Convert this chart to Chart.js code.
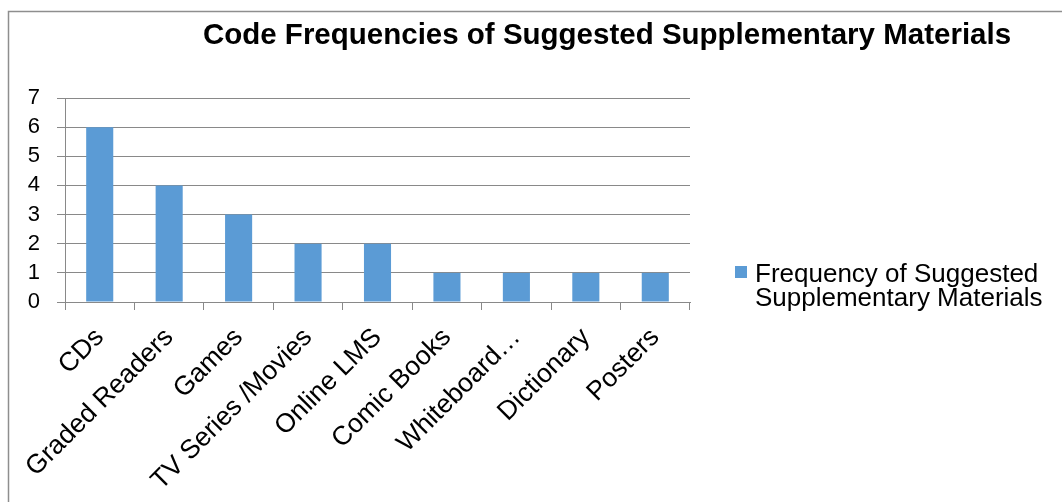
<!DOCTYPE html>
<html>
<head>
<meta charset="utf-8">
<title>Code Frequencies of Suggested Supplementary Materials</title>
<script src="https://cdn.jsdelivr.net/npm/chart.js@4/dist/chart.umd.min.js"></script>
<style>
  html, body { margin: 0; padding: 0; background: #fff; }
  #wrap { width: 1062px; height: 502px; }
</style>
</head>
<body>
<div id="wrap"><canvas id="materials-chart" width="1062" height="502"></canvas></div>
<script>
"use strict";

// categories and counts
var materials = ["CDs", "Graded Readers", "Games", "TV Series /Movies", "Online LMS",
  "Comic Books", "Whiteboard\u2026", "Dictionary", "Posters"];
var frequencies = [6, 4, 3, 2, 2, 1, 1, 1, 1];
var yTicks = [0, 1, 2, 3, 4, 5, 6, 7];

var chartTitle = "Code Frequencies of Suggested Supplementary Materials";
var seriesName = ["Frequency of Suggested", "Supplementary Materials"];

var gridGray = "#898989";
var barBlue = "#5b9bd5";

// frame, title and the two-line legend are painted by hand
var decorations = {
  id: "decorations",
  afterDraw: function(chart) {
    var ctx = chart.ctx;
    ctx.save();
    ctx.strokeStyle = "#8e8e8e";
    ctx.lineWidth = 1.5;
    ctx.strokeRect(8.5, 11.5, 1100, 600);

    ctx.fillStyle = "#000";
    ctx.font = "bold 29.5px 'Liberation Sans', Arial, sans-serif";
    ctx.textAlign = "center";
    ctx.textBaseline = "alphabetic";
    ctx.fillText(chartTitle, 607, 44);

    ctx.fillStyle = barBlue;
    ctx.fillRect(735, 266, 12, 12);
    ctx.fillStyle = "#000";
    ctx.font = "26px 'Liberation Sans', Arial, sans-serif";
    ctx.textAlign = "left";
    ctx.fillText(seriesName[0], 755, 282);
    ctx.fillText(seriesName[1], 755, 306);
    ctx.restore();
  }
};

var ctx = document.getElementById("materials-chart").getContext("2d");

new Chart(ctx, {
  type: "bar",
  data: {
    labels: materials,
    datasets: [{
      label: seriesName.join(" "),
      data: frequencies,
      backgroundColor: barBlue,
      borderWidth: 0,
      barPercentage: 0.39,
      categoryPercentage: 1.0
    }]
  },
  options: {
    responsive: false,
    animation: false,
    layout: {
      padding: { top: 98, right: 372, left: 8, bottom: 0 }
    },
    scales: {
      y: {
        min: 0,
        max: 7,
        afterFit: function(scale) { scale.width = 57; },
        afterBuildTicks: function(scale) {
          scale.ticks = yTicks.map(function(v) { return { value: v }; });
        },
        grid: { color: gridGray, lineWidth: 1, tickLength: 8 },
        border: { display: true, color: gridGray, width: 1 },
        ticks: {
          color: "#000",
          autoSkip: false,
          padding: 17,
          font: { family: "'Liberation Sans', Arial, sans-serif", size: 22 }
        }
      },
      x: {
        afterFit: function(scale) { scale.height = 200; },
        grid: { color: gridGray, drawOnChartArea: false, tickLength: 8, offset: true },
        border: { display: true, color: gridGray, width: 1 },
        ticks: {
          color: "#000",
          autoSkip: false,
          minRotation: 45,
          maxRotation: 45,
          padding: 12,
          font: { family: "'Liberation Sans', Arial, sans-serif", size: 26.5 }
        }
      }
    },
    plugins: {
      legend: { display: false },
      title: { display: false },
      tooltip: { enabled: false }
    }
  },
  plugins: [decorations]
});
</script>
</body>
</html>
